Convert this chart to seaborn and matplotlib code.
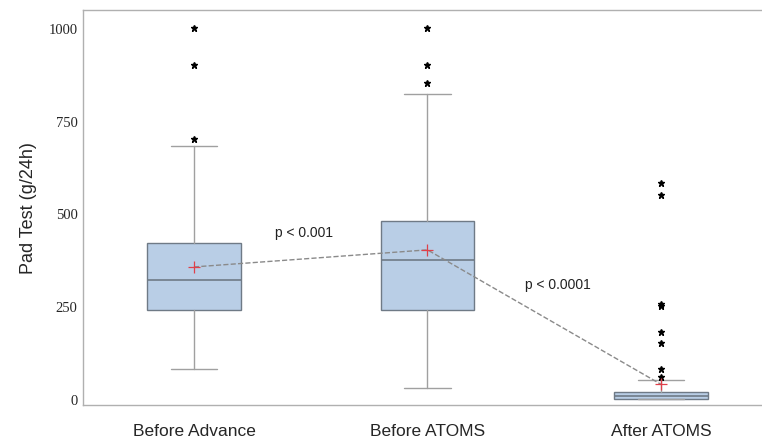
import seaborn as sns
import matplotlib.pyplot as plt
import pandas as pd

# five-number summaries (g/24h)
groups = ['Before Advance', 'Before ATOMS', 'After ATOMS']
whislo = [81, 30, 0]
q1 = [240, 240, 0]
med = [321, 375, 8]
q3 = [420, 480, 19]
whishi = [682, 822, 51]
means = [356, 402, 40]
fliers = [[700, 900, 1000],
          [851, 900, 1000],
          [60, 81, 151, 180, 250, 256, 550, 582]]

p_labels = ['p < 0.001', 'p < 0.0001']
p_pos = [(0.47, 450), (1.56, 310)]

sns.set_style('white')

fig = plt.figure(figsize=(7.62, 4.39), dpi=100)
ax = fig.add_axes([0.109, 0.075, 0.891, 0.90])

stats = []
for i, g in enumerate(groups):
    stats.append(dict(label=g, whislo=whislo[i], q1=q1[i], med=med[i],
                      q3=q3[i], whishi=whishi[i], mean=means[i],
                      fliers=fliers[i]))

ax.bxp(stats, positions=range(len(groups)), widths=0.40, capwidths=0.20,
       patch_artist=True, showmeans=False,
       boxprops=dict(facecolor='#b9cee6', edgecolor='#6f7a86', linewidth=1.0),
       medianprops=dict(color='#6f7a86', linewidth=1.2),
       whiskerprops=dict(color='#a0a0a0', linewidth=1.0),
       capprops=dict(color='#a0a0a0', linewidth=1.0),
       flierprops=dict(marker='*', markerfacecolor='black',
                       markeredgecolor='black', markersize=5))

# dashed line linking the means
mean_df = pd.DataFrame({'x': range(len(groups)), 'mean': means})
sns.lineplot(data=mean_df, x='x', y='mean', ax=ax, color='#8a8a8a',
             linestyle='--', linewidth=1.0, zorder=4)
ax.plot(mean_df['x'], mean_df['mean'], linestyle='none', marker='+',
        color='#e0404a', markersize=9, markeredgewidth=0.9, zorder=5)

for lab, (x, y) in zip(p_labels, p_pos):
    ax.text(x, y, lab, ha='center', va='center', fontsize=10,
            family='Liberation Sans', color='#222222')

ax.set_xlim(-0.475, 2.433)
ax.set_ylim(-16, 1048)
ax.set_yticks([0, 250, 500, 750, 1000])
ax.set_xticks(range(len(groups)))
ax.set_xticklabels(groups, fontsize=12.5, family='Liberation Sans')
for t in ax.get_yticklabels():
    t.set_family('Liberation Serif')
    t.set_fontsize(10.5)
ax.set_xlabel('')
ax.set_ylabel('Pad Test (g/24h)', fontsize=13, family='Liberation Sans',
              labelpad=8)
ax.tick_params(axis='x', length=0, pad=13)
ax.tick_params(axis='y', length=0, pad=4)

for s in ['left', 'top', 'bottom']:
    ax.spines[s].set_color('#b0b0b0')
    ax.spines[s].set_linewidth(1.0)
ax.spines['right'].set_visible(False)

fig.savefig('out.png', dpi=100)
